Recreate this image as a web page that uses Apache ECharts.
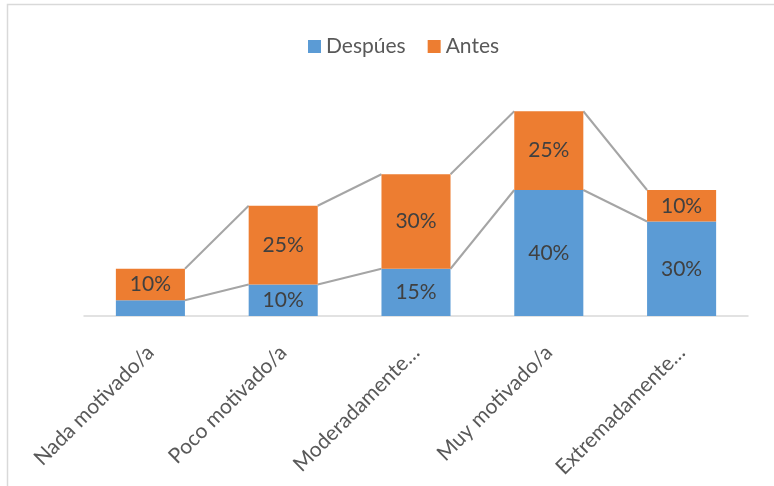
<!DOCTYPE html>
<html><head><meta charset="utf-8">
<script src="https://cdn.jsdelivr.net/npm/echarts@6/dist/echarts.min.js"></script>
<style>html,body{margin:0;padding:0;background:#fff}#c{width:774px;height:486px}</style>
</head><body><div id="c"></div>
<script>
const categories = ['Nada motivado/a', 'Poco motivado/a', 'Moderadamente…', 'Muy motivado/a', 'Extremadamente…'];
const despues = [5, 10, 15, 40, 30];
const antes = [10, 25, 30, 25, 10];
const hiddenDespuesLabels = [0];

const FONT = 'Lato';
const chart = echarts.init(document.getElementById('c'));
const barRatio = 0.52;

const despuesData = despues.map((v, i) => hiddenDespuesLabels.includes(i) ? {value: v, label: {show: false}} : v);

chart.setOption({
  animation: false,
  textStyle: {fontFamily: FONT},
  graphic: [{type: 'rect', shape: {x: 7.5, y: 4.5, width: 800, height: 520}, style: {fill: 'none', stroke: '#d9d9d9', lineWidth: 1.5}, silent: true}],
  legend: {
    top: 31, left: 303,
    itemWidth: 13, itemHeight: 13, itemGap: 22,
    icon: 'rect',
    textStyle: {fontFamily: FONT, fontSize: 21, color: '#595959'},
    data: ['Despúes', 'Antes']
  },
  grid: {left: 84, right: 26, top: 95.5, bottom: 170},
  xAxis: {
    type: 'category', data: categories,
    axisLine: {lineStyle: {color: '#d9d9d9', width: 1.5}},
    axisTick: {show: false},
    axisLabel: {rotate: 45, interval: 0, margin: 33, fontFamily: FONT, fontSize: 21, color: '#595959'}
  },
  yAxis: {type: 'value', min: 0, max: 70, show: false, splitLine: {show: false}},
  series: [
    {name: 'Despúes', type: 'bar', stack: 's', barWidth: (barRatio * 100) + '%', data: despuesData,
     itemStyle: {color: '#5b9bd5'},
     label: {show: true, position: 'inside', formatter: '{c}%', fontFamily: FONT, fontSize: 21, color: '#404040'}},
    {name: 'Antes', type: 'bar', stack: 's', data: antes,
     itemStyle: {color: '#ed7d31'},
     label: {show: true, position: 'inside', formatter: '{c}%', fontFamily: FONT, fontSize: 21, color: '#404040'}},
    {name: 'lines', type: 'custom', silent: true, z: 1,
     data: despues.map((v, i) => [i, v, v + antes[i]]),
     renderItem: function (params, api) {
       const i = api.value(0);
       if (i >= despues.length - 1) return null;
       const half = api.size([1, 0])[0] * barRatio / 2;
       const children = [];
       [[despues[i], despues[i + 1]], [despues[i] + antes[i], despues[i + 1] + antes[i + 1]]].forEach(function (pair) {
         const p1 = api.coord([i, pair[0]]);
         const p2 = api.coord([i + 1, pair[1]]);
         children.push({type: 'line', shape: {x1: p1[0] + half, y1: p1[1], x2: p2[0] - half, y2: p2[1]},
           style: {stroke: '#a5a5a5', lineWidth: 2}});
       });
       return {type: 'group', children: children};
     }}
  ]
});
</script></body></html>
